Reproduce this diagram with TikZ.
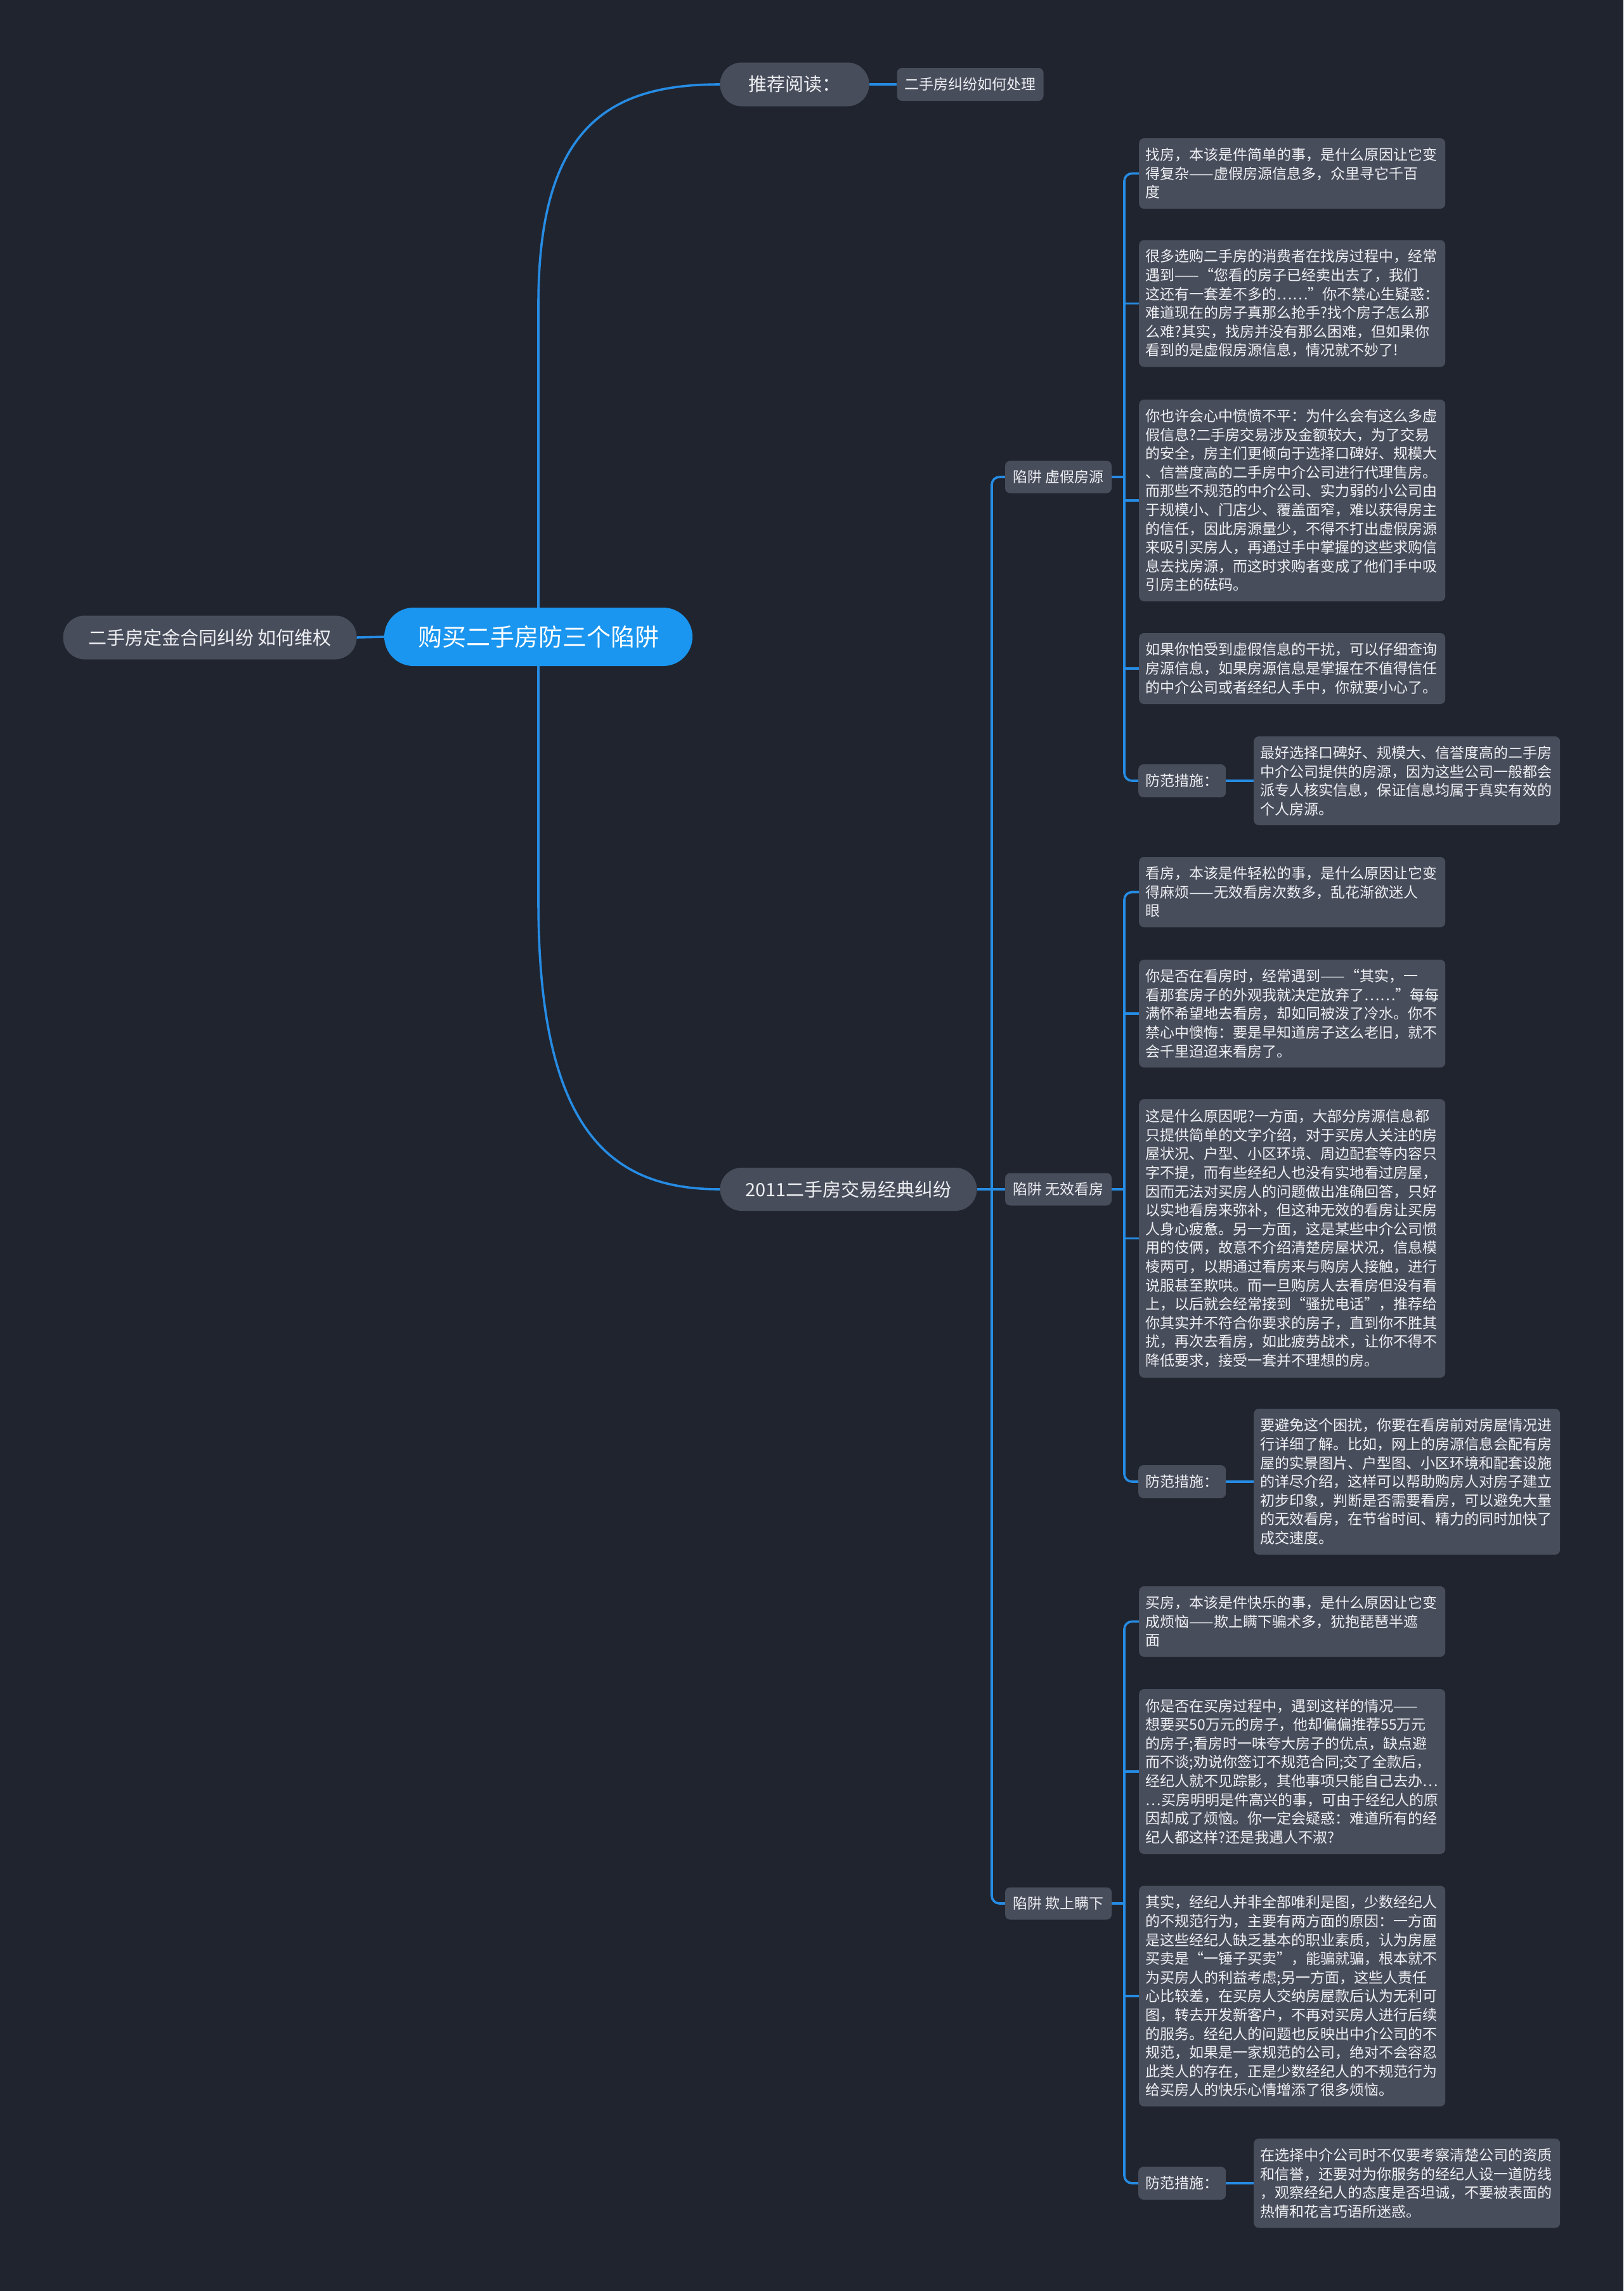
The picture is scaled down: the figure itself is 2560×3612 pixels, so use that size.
\documentclass[tikz,border=0pt]{standalone}
\usepackage{fontspec}
\setmainfont{Noto Sans CJK SC}
\definecolor{bg}{RGB}{32,36,47}
\definecolor{boxgray}{RGB}{72,77,92}
\definecolor{lineblue}{RGB}{38,140,228}
\definecolor{mainblue}{RGB}{26,150,240}
\definecolor{txt}{RGB}{238,239,242}
\begin{document}
\begin{tikzpicture}[x=1pt,y=-1pt,
  conn/.style={draw=lineblue, line width=3.6pt},
  txtbox/.style={fill=boxgray, rounded corners=8pt, text=txt, align=left, text width=462pt, inner xsep=10.5pt, inner ysep=0pt, font=\fontsize{23}{29.6}\selectfont, anchor=west},
  lab/.style={fill=boxgray, rounded corners=8pt, text=txt, inner xsep=0pt, inner ysep=0pt, minimum height=51pt, font=\fontsize{23}{28}\selectfont},
  pill/.style={fill=boxgray, rounded corners=34pt, text=txt, minimum height=69pt, inner sep=0pt, font=\fontsize{29}{34}\selectfont},
]
\useasboundingbox (0,0) rectangle (2560,3612);
\fill[bg] (0,0) rectangle (2560,3612);

% main nodes
\node[fill=mainblue, rounded corners=46pt, text=white, minimum width=486pt, minimum height=92pt, inner sep=0pt, font=\fontsize{38}{44}\selectfont] (c) at (849,1004) {购买二手房防三个陷阱};
\node[pill, minimum width=463pt] (left) at (331,1005) {二手房定金合同纠纷 如何维权};
\node[pill, minimum width=235pt] (tj) at (1253,133) {推荐阅读：};
\node[lab, minimum width=231pt, minimum height=52pt] (tjs) at (1530,133) {二手房纠纷如何处理};
\node[pill, minimum width=405pt, minimum height=68pt] (n2011) at (1338,1875) {2011二手房交易经典纠纷};

% trap labels
\node[lab, minimum width=168pt] (t1) at (1669,752) {陷阱 虚假房源};
\node[lab, minimum width=168pt] (t2) at (1669,1875) {陷阱 无效看房};
\node[lab, minimum width=168pt] (t3) at (1669,3001) {陷阱 欺上瞒下};

% group 1
\node[txtbox, minimum height=111pt] (b1) at (1796,273.5) {找房，本该是件简单的事，是什么原因让它变\\得复杂——虚假房源信息多，众里寻它千百\\度};
\node[txtbox, minimum height=200pt] (b2) at (1796,478.5) {很多选购二手房的消费者在找房过程中，经常\\遇到——“您看的房子已经卖出去了，我们\\这还有一套差不多的……”你不禁心生疑惑：\\难道现在的房子真那么抢手?找个房子怎么那\\么难?其实，找房并没有那么困难，但如果你\\看到的是虚假房源信息，情况就不妙了!};
\node[txtbox, minimum height=318pt] (b3) at (1796,789) {你也许会心中愤愤不平：为什么会有这么多虚\\假信息?二手房交易涉及金额较大，为了交易\\的安全，房主们更倾向于选择口碑好、规模大\\、信誉度高的二手房中介公司进行代理售房。\\而那些不规范的中介公司、实力弱的小公司由\\于规模小、门店少、覆盖面窄，难以获得房主\\的信任，因此房源量少，不得不打出虚假房源\\来吸引买房人，再通过手中掌握的这些求购信\\息去找房源，而这时求购者变成了他们手中吸\\引房主的砝码。};
\node[txtbox, minimum height=112pt] (b4) at (1796,1054) {如果你怕受到虚假信息的干扰，可以仔细查询\\房源信息，如果房源信息是掌握在不值得信任\\的中介公司或者经纪人手中，你就要小心了。};
\node[lab, minimum width=138pt, minimum height=52pt, anchor=west] (f1) at (1795,1231) {防范措施：};
\node[txtbox, minimum height=140pt] (b5) at (1977,1231) {最好选择口碑好、规模大、信誉度高的二手房\\中介公司提供的房源，因为这些公司一般都会\\派专人核实信息，保证信息均属于真实有效的\\个人房源。};

% group 2
\node[txtbox, minimum height=111pt] (b6) at (1796,1406.5) {看房，本该是件轻松的事，是什么原因让它变\\得麻烦——无效看房次数多，乱花渐欲迷人\\眼};
\node[txtbox, minimum height=170pt] (b7) at (1796,1598) {你是否在看房时，经常遇到——“其实，一\\看那套房子的外观我就决定放弃了……”每每\\满怀希望地去看房，却如同被泼了冷水。你不\\禁心中懊悔：要是早知道房子这么老旧，就不\\会千里迢迢来看房了。};
\node[txtbox, minimum height=439pt] (b8) at (1796,1952.5) {这是什么原因呢?一方面，大部分房源信息都\\只提供简单的文字介绍，对于买房人关注的房\\屋状况、户型、小区环境、周边配套等内容只\\字不提，而有些经纪人也没有实地看过房屋，\\因而无法对买房人的问题做出准确回答，只好\\以实地看房来弥补，但这种无效的看房让买房\\人身心疲惫。另一方面，这是某些中介公司惯\\用的伎俩，故意不介绍清楚房屋状况，信息模\\棱两可，以期通过看房来与购房人接触，进行\\说服甚至欺哄。而一旦购房人去看房但没有看\\上，以后就会经常接到“骚扰电话”，推荐给\\你其实并不符合你要求的房子，直到你不胜其\\扰，再次去看房，如此疲劳战术，让你不得不\\降低要求，接受一套并不理想的房。};
\node[lab, minimum width=138pt, minimum height=52pt, anchor=west] (f2) at (1795,2336) {防范措施：};
\node[txtbox, minimum height=230pt] (b9) at (1977,2336) {要避免这个困扰，你要在看房前对房屋情况进\\行详细了解。比如，网上的房源信息会配有房\\屋的实景图片、户型图、小区环境和配套设施\\的详尽介绍，这样可以帮助购房人对房子建立\\初步印象，判断是否需要看房，可以避免大量\\的无效看房，在节省时间、精力的同时加快了\\成交速度。};

% group 3
\node[txtbox, minimum height=111pt] (b10) at (1796,2556.5) {买房，本该是件快乐的事，是什么原因让它变\\成烦恼——欺上瞒下骗术多，犹抱琵琶半遮\\面};
\node[txtbox, minimum height=260pt] (b11) at (1796,2793) {你是否在买房过程中，遇到这样的情况——\\想要买50万元的房子，他却偏偏推荐55万元\\的房子;看房时一味夸大房子的优点，缺点避\\而不谈;劝说你签订不规范合同;交了全款后，\\经纪人就不见踪影，其他事项只能自己去办…\\…买房明明是件高兴的事，可由于经纪人的原\\因却成了烦恼。你一定会疑惑：难道所有的经\\纪人都这样?还是我遇人不淑?};
\node[txtbox, minimum height=348pt] (b12) at (1796,3147) {其实，经纪人并非全部唯利是图，少数经纪人\\的不规范行为，主要有两方面的原因：一方面\\是这些经纪人缺乏基本的职业素质，认为房屋\\买卖是“一锤子买卖”，能骗就骗，根本就不\\为买房人的利益考虑;另一方面，这些人责任\\心比较差，在买房人交纳房屋款后认为无利可\\图，转去开发新客户，不再对买房人进行后续\\的服务。经纪人的问题也反映出中介公司的不\\规范，如果是一家规范的公司，绝对不会容忍\\此类人的存在，正是少数经纪人的不规范行为\\给买房人的快乐心情增添了很多烦恼。};
\node[lab, minimum width=138pt, minimum height=52pt, anchor=west] (f3) at (1795,3442) {防范措施：};
\node[txtbox, minimum height=141pt] (b13) at (1977,3442) {在选择中介公司时不仅要考察清楚公司的资质\\和信誉，还要对为你服务的经纪人设一道防线\\，观察经纪人的态度是否坦诚，不要被表面的\\热情和花言巧语所迷惑。};

% connectors
\draw[conn] (left.east) -- (c.west);
\draw[conn] (c.north) -- (849,480) .. controls (849,200) and (960,133) .. (tj.west);
\draw[conn] (c.south) -- (849,1420) .. controls (849,1780) and (960,1875) .. (n2011.west);
\draw[conn] (tj.east) -- (tjs.west);
\draw[conn] (n2011.east) -- (t2.west);
\draw[conn, rounded corners=12pt] (t1.west) -- (1564,752) -- (1564,3001) -- (t3.west);

\draw[conn, rounded corners=12pt] (b1.west) -- (1773,273.5) -- (1773,1231) -- (f1.west);
\draw[conn] (t1.east) -- (1773,752);
\draw[conn] (1773,478.5) -- (b2.west);
\draw[conn] (1773,789) -- (b3.west);
\draw[conn] (1773,1054) -- (b4.west);
\draw[conn] (f1.east) -- (b5.west);

\draw[conn, rounded corners=12pt] (b6.west) -- (1773,1406.5) -- (1773,2336) -- (f2.west);
\draw[conn] (t2.east) -- (1773,1875);
\draw[conn] (1773,1598) -- (b7.west);
\draw[conn] (1773,1952.5) -- (b8.west);
\draw[conn] (f2.east) -- (b9.west);

\draw[conn, rounded corners=12pt] (b10.west) -- (1773,2556.5) -- (1773,3442) -- (f3.west);
\draw[conn] (t3.east) -- (1773,3001);
\draw[conn] (1773,2793) -- (b11.west);
\draw[conn] (1773,3147) -- (b12.west);
\draw[conn] (f3.east) -- (b13.west);
\end{tikzpicture}
\end{document}
